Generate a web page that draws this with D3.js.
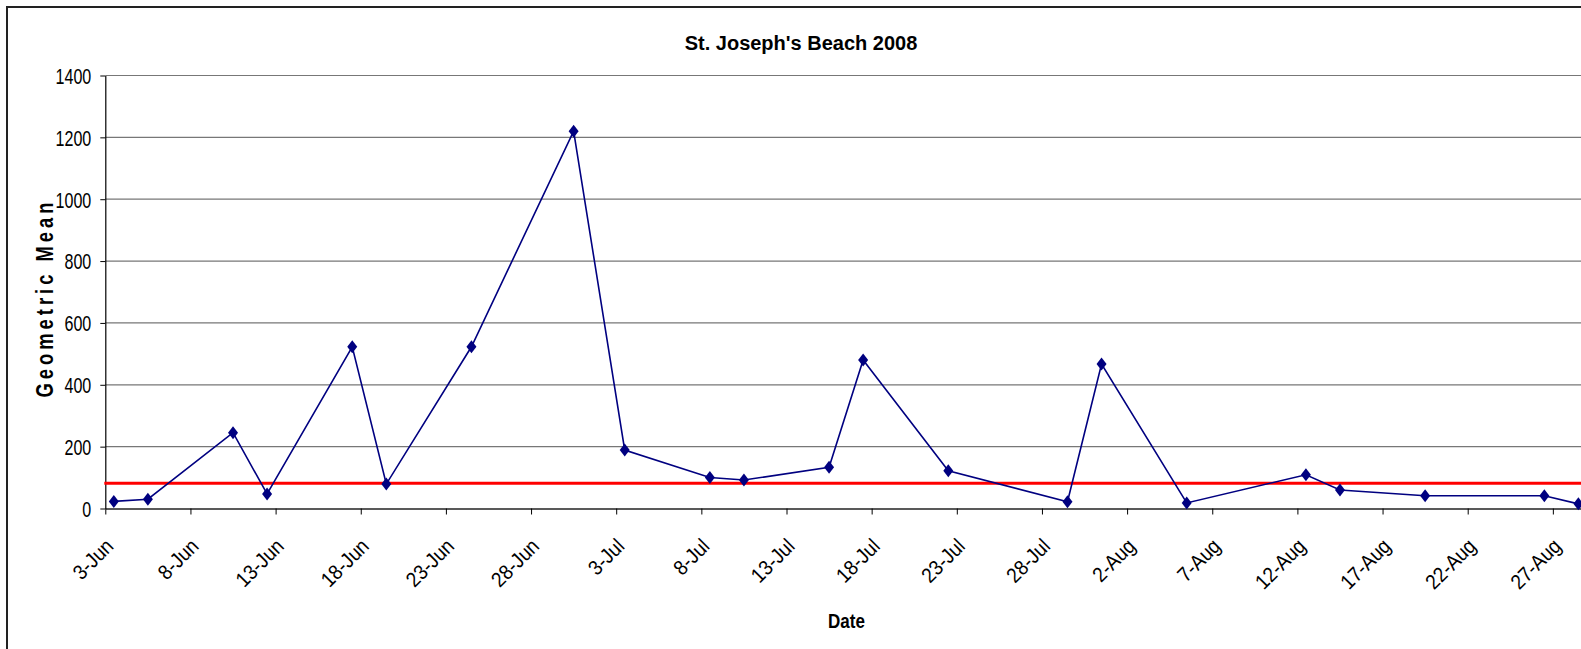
<!DOCTYPE html>
<html>
<head>
<meta charset="utf-8">
<script src="https://cdn.jsdelivr.net/npm/d3@7"></script>
<style>
  body { margin: 0; background: #fff; }
  svg { display: block; font-family: "Liberation Sans", Arial, sans-serif; }
</style>
</head>
<body>
<div id="chart"></div>
<script>
// sample dates and geometric means
var dates = ["3-Jun", "5-Jun", "10-Jun", "12-Jun", "17-Jun", "19-Jun", "24-Jun", "30-Jun",
             "3-Jul", "8-Jul", "10-Jul", "15-Jul", "17-Jul", "22-Jul", "29-Jul", "31-Jul",
             "5-Aug", "12-Aug", "14-Aug", "19-Aug", "26-Aug", "28-Aug"];
var values = [23, 30, 245, 47, 523, 79, 523, 1220,
              189, 100, 92, 133, 480, 122, 22, 467,
              18, 109, 60, 41, 41, 15];
var limit = 82;

var xTickLabels = ["3-Jun", "8-Jun", "13-Jun", "18-Jun", "23-Jun", "28-Jun", "3-Jul", "8-Jul", "13-Jul",
                   "18-Jul", "23-Jul", "28-Jul", "2-Aug", "7-Aug", "12-Aug", "17-Aug", "22-Aug", "27-Aug"];
var yTicks = [0, 200, 400, 600, 800, 1000, 1200, 1400];

var width = 1581,
    height = 649,
    plotLeft = 105.3,
    plotTop = 75.5,
    plotBottom = 508.5,
    dayW = 17.03;

var parse = function(s) { return d3.timeParse("%d-%b-%Y")(s + "-2008"); };

var svg = d3.select("#chart")
    .append("svg")
    .attr("width", width)
    .attr("height", height);

svg.append("rect")
    .attr("width", width)
    .attr("height", height)
    .attr("fill", "#fff");

// chart frame (right and bottom edges fall outside the picture)
svg.append("rect")
    .attr("x", 7)
    .attr("y", 7)
    .attr("width", 1700)
    .attr("height", 800)
    .attr("fill", "none")
    .attr("stroke", "#222")
    .attr("stroke-width", 2);

var x = d3.scaleTime()
    .domain([parse("3-Jun"), parse("31-Aug")])
    .range([plotLeft, plotLeft + 89 * dayW]);

var y = d3.scaleLinear()
    .domain([0, 1400])
    .range([plotBottom, plotTop]);

// horizontal gridlines
svg.append("g")
    .selectAll("line")
    .data(yTicks.slice(1))
    .enter()
    .append("line")
    .attr("x1", plotLeft)
    .attr("x2", width)
    .attr("y1", function(d) { return y(d); })
    .attr("y2", function(d) { return y(d); })
    .attr("stroke", "#777")
    .attr("stroke-width", 1.2);

// y axis
var yAxis = svg.append("g")
    .attr("transform", "translate(" + plotLeft + ",0)")
    .call(d3.axisLeft(y).tickValues(yTicks).tickFormat(d3.format("d")).tickSize(5).tickSizeOuter(0));

yAxis.select(".domain").attr("stroke", "#000").attr("stroke-width", 1.2);
yAxis.selectAll(".tick line").attr("stroke", "#000");
yAxis.selectAll("text")
    .attr("x", null)
    .attr("dy", "0.36em")
    .attr("fill", "#000")
    .style("font-size", "22px")
    .attr("transform", "translate(-14,0) scale(0.73,1)");

// x axis
var xAxis = svg.append("g")
    .attr("transform", "translate(0," + plotBottom + ")")
    .call(d3.axisBottom(x)
        .tickValues(xTickLabels.map(parse))
        .tickFormat(d3.timeFormat("%-d-%b"))
        .tickSize(6)
        .tickSizeOuter(0));

xAxis.select(".domain").attr("stroke", "#222").attr("stroke-width", 1.6);
xAxis.selectAll(".tick line").attr("stroke", "#000");
xAxis.selectAll("text")
    .attr("y", null)
    .attr("dy", null)
    .attr("fill", "#000")
    .style("font-size", "21px")
    .style("text-anchor", "end")
    .attr("transform", "translate(9,39) rotate(-45) scale(0.9,1)");

// limit line
svg.append("line")
    .attr("x1", plotLeft - 1)
    .attr("x2", width)
    .attr("y1", y(limit))
    .attr("y2", y(limit))
    .attr("stroke", "#ff0000")
    .attr("stroke-width", 3);

// data series, points sit in the middle of each day
var points = dates.map(function(d, i) {
    return { date: d3.timeHour.offset(parse(d), 12), value: values[i] };
});

var line = d3.line()
    .x(function(d) { return x(d.date); })
    .y(function(d) { return y(d.value); });

svg.append("path")
    .datum(points)
    .attr("d", line)
    .attr("fill", "none")
    .attr("stroke", "#000080")
    .attr("stroke-width", 1.6);

svg.append("g")
    .selectAll("path")
    .data(points)
    .enter()
    .append("path")
    .attr("d", "M0,-6.5L5,0L0,6.5L-5,0Z")
    .attr("fill", "#000080")
    .attr("transform", function(d) { return "translate(" + x(d.date) + "," + y(d.value) + ")"; });

// titles
svg.append("text")
    .attr("x", 801)
    .attr("y", 49.5)
    .attr("text-anchor", "middle")
    .style("font-size", "20px")
    .style("font-weight", "bold")
    .text("St. Joseph's Beach 2008");

svg.append("text")
    .attr("text-anchor", "middle")
    .attr("transform", "translate(846.5,628) scale(0.85,1)")
    .style("font-size", "20px")
    .style("font-weight", "bold")
    .text("Date");

svg.append("text")
    .attr("text-anchor", "middle")
    .attr("transform", "translate(53,298) rotate(-90) scale(0.8,1)")
    .style("font-size", "23px")
    .style("font-weight", "bold")
    .style("letter-spacing", "5px")
    .text("Geometric Mean");
</script>
</body>
</html>
